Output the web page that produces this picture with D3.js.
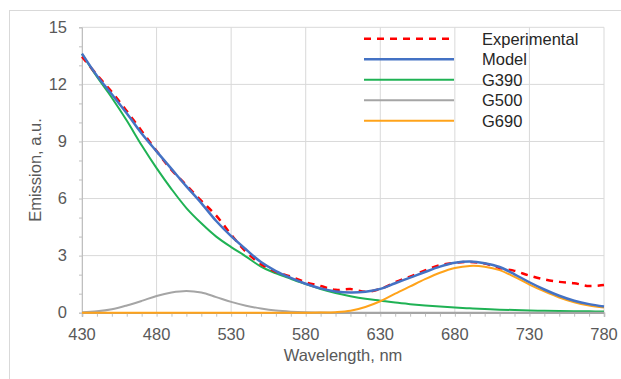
<!DOCTYPE html>
<html lang="en">
<head>
    <meta charset="UTF-8">
    <title>Emission spectrum fit</title>
    <script src="https://d3js.org/d3.v7.min.js"></script>
    <style>
        body {
            margin: 0;
            background: #fff;
        }

        text {
            font-family: "Liberation Sans", Arial, sans-serif;
        }

        .tick-label {
            font-size: 16.5px;
            fill: #595959;
        }

        .axis-title {
            font-size: 16.5px;
            fill: #595959;
        }

        .legend-text {
            font-size: 16.5px;
            fill: #262626;
        }
    </style>
</head>
<body>
    <svg id="chart" width="621" height="379"></svg>
    <script>
        const wavelength = [430, 440, 450, 460, 470, 480, 490, 500, 510, 520, 530, 540,
            550, 560, 570, 580, 590, 600, 610, 620, 630, 640, 650, 660, 670, 680, 690,
            700, 710, 720, 730, 740, 750, 760, 770, 780];

        const experimental = [13.45, 12.5, 11.6, 10.6, 9.55, 8.5, 7.5, 6.7, 5.88, 5.1, 4.1, 3.2,
            2.55, 2.15, 1.9, 1.6, 1.4, 1.2, 1.24, 1.1, 1.25, 1.6, 1.9, 2.22, 2.5, 2.62, 2.67,
            2.58, 2.35, 2.2, 1.95, 1.75, 1.62, 1.55, 1.4, 1.45];

        const model = [13.62, 12.46, 11.48, 10.48, 9.42, 8.48, 7.56, 6.64, 5.76, 4.82, 4.02, 3.32,
            2.66, 2.19, 1.83, 1.52, 1.28, 1.12, 1.06, 1.1, 1.25, 1.55, 1.84, 2.14, 2.42, 2.62, 2.69,
            2.6, 2.4, 2.02, 1.6, 1.22, 0.89, 0.63, 0.45, 0.33];

        const g390 = [13.6, 12.4, 11.3, 10.1, 8.8, 7.6, 6.5, 5.5, 4.7, 4.0, 3.45, 2.95,
            2.42, 2.07, 1.78, 1.5, 1.25, 1.04, 0.87, 0.73, 0.63, 0.53, 0.45, 0.38, 0.32, 0.27, 0.23,
            0.19, 0.16, 0.14, 0.12, 0.1, 0.09, 0.08, 0.07, 0.06];

        const g500 = [0.02, 0.07, 0.18, 0.38, 0.62, 0.88, 1.06, 1.14, 1.06, 0.82, 0.57, 0.37,
            0.22, 0.11, 0.05, 0.02, 0.01, 0, 0, 0, 0, 0, 0, 0, 0, 0, 0,
            0, 0, 0, 0, 0, 0, 0, 0, 0];

        const g690 = [0, 0, 0, 0, 0, 0, 0, 0, 0, 0, 0, 0,
            0, 0, 0, 0, 0.01, 0.03, 0.1, 0.3, 0.6, 1.0, 1.38, 1.76, 2.1, 2.35, 2.46,
            2.42, 2.24, 1.88, 1.48, 1.12, 0.8, 0.55, 0.38, 0.27];

        const xTicks = [430, 480, 530, 580, 630, 680, 730, 780];
        const yTicks = [0, 3, 6, 9, 12, 15];

        const series = [
            { name: "Experimental", values: experimental, color: "#ff0000", dash: "7,6", width: 2.5 },
            { name: "Model", values: model, color: "#4472c4", dash: null, width: 2.5 },
            { name: "G390", values: g390, color: "#1fb254", dash: null, width: 2 },
            { name: "G500", values: g500, color: "#a5a5a5", dash: null, width: 2 },
            { name: "G690", values: g690, color: "#ffa31a", dash: null, width: 2 }
        ];

        const svg = d3.select("#chart");

        // outer chart frame
        svg.append("rect")
            .attr("x", 9.5)
            .attr("y", 10.5)
            .attr("width", 700)
            .attr("height", 500)
            .attr("fill", "none")
            .attr("stroke", "#d9d9d9")
            .attr("stroke-width", 1);

        const plotLeft = 82, plotRight = 604, plotTop = 27.3, plotBottom = 312.7;

        const x = d3.scaleLinear().domain([430, 780]).range([plotLeft, plotRight]);
        const y = d3.scaleLinear().domain([0, 15]).range([plotBottom, plotTop]);

        // grid
        svg.append("g")
            .selectAll("line")
            .data(xTicks)
            .enter().append("line")
            .attr("x1", d => x(d)).attr("x2", d => x(d))
            .attr("y1", plotTop).attr("y2", plotBottom)
            .attr("stroke", "#d9d9d9")
            .attr("stroke-width", 1);

        svg.append("g")
            .selectAll("line")
            .data(yTicks.filter(d => d > 0))
            .enter().append("line")
            .attr("x1", plotLeft).attr("x2", plotRight)
            .attr("y1", d => y(d)).attr("y2", d => y(d))
            .attr("stroke", "#d9d9d9")
            .attr("stroke-width", 1);

        // axes with minor ticks
        const xAxis = svg.append("g")
            .attr("transform", `translate(0,${plotBottom})`)
            .call(d3.axisBottom(x).ticks(35).tickSize(4).tickFormat(""));
        xAxis.select(".domain").attr("stroke", "#a6a6a6").attr("stroke-width", 1.5);
        xAxis.selectAll(".tick line").attr("stroke", "#bfbfbf");

        const yAxis = svg.append("g")
            .attr("transform", `translate(${plotLeft},0)`)
            .call(d3.axisLeft(y).ticks(15).tickSize(3).tickFormat(""));
        yAxis.select(".domain").attr("stroke", "#bfbfbf");
        yAxis.selectAll(".tick line").attr("stroke", "#bfbfbf");

        svg.append("g")
            .selectAll("text")
            .data(xTicks)
            .enter().append("text")
            .attr("class", "tick-label")
            .attr("x", d => x(d))
            .attr("y", 340)
            .attr("text-anchor", "middle")
            .text(d => d);

        svg.append("g")
            .selectAll("text")
            .data(yTicks)
            .enter().append("text")
            .attr("class", "tick-label")
            .attr("x", 67)
            .attr("y", d => y(d))
            .attr("dy", "0.35em")
            .attr("text-anchor", "end")
            .text(d => d);

        svg.append("text")
            .attr("class", "axis-title")
            .attr("x", (plotLeft + plotRight) / 2)
            .attr("y", 361)
            .attr("text-anchor", "middle")
            .text("Wavelength, nm");

        svg.append("text")
            .attr("class", "axis-title")
            .attr("transform", `translate(41,${(plotTop + plotBottom) / 2}) rotate(-90)`)
            .attr("text-anchor", "middle")
            .text("Emission, a.u.");

        // curves, drawn back to front
        const line = d3.line()
            .x((d, i) => x(wavelength[i]))
            .y(d => y(d))
            .curve(d3.curveCatmullRom.alpha(0.5));

        const drawOrder = ["G390", "G500", "G690", "Experimental", "Model"];
        drawOrder.forEach(name => {
            const s = series.find(d => d.name === name);
            svg.append("path")
                .datum(s.values)
                .attr("d", line)
                .attr("fill", "none")
                .attr("stroke", s.color)
                .attr("stroke-width", s.width)
                .attr("stroke-dasharray", s.dash)
                .attr("stroke-linejoin", "round");
        });

        // legend
        const legend = svg.append("g");
        series.forEach((s, i) => {
            const rowY = 38.8 + i * 20.5;
            legend.append("line")
                .attr("x1", 364).attr("x2", 454)
                .attr("y1", rowY).attr("y2", rowY)
                .attr("stroke", s.color)
                .attr("stroke-width", s.width)
                .attr("stroke-dasharray", s.dash);
            legend.append("text")
                .attr("class", "legend-text")
                .attr("x", 482)
                .attr("y", rowY)
                .attr("dy", "0.36em")
                .text(s.name);
        });
    </script>
</body>
</html>
